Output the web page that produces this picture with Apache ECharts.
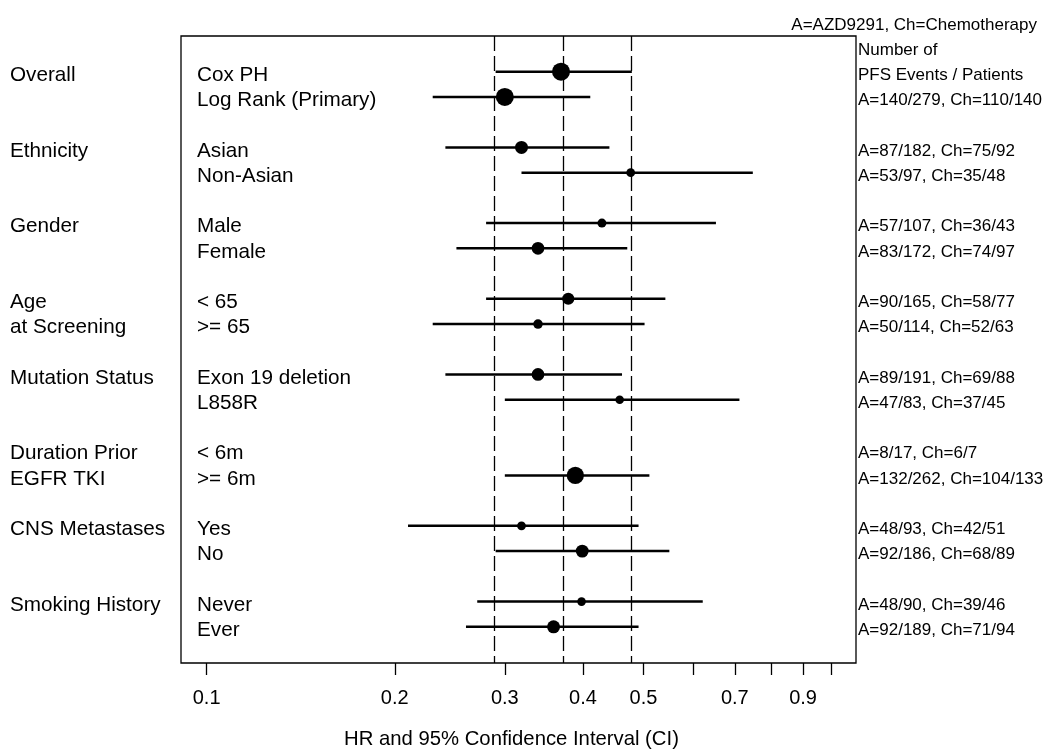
<!DOCTYPE html>
<html>
<head>
<meta charset="utf-8">
<script src="https://cdn.jsdelivr.net/npm/echarts@6/dist/echarts.min.js"></script>
<style>
  html, body { margin: 0; padding: 0; background: #fff; }
  #forest { width: 1043px; height: 749px; }
</style>
</head>
<body>
<div id="forest"></div>
<script>
// group labels (one or two lines each), two subgroups per group
const groups = [['Overall'], ['Ethnicity'], ['Gender'], ['Age', 'at Screening'],
  ['Mutation Status'], ['Duration Prior', 'EGFR TKI'], ['CNS Metastases'], ['Smoking History']];
const subgroups = ['Cox PH', 'Log Rank (Primary)', 'Asian', 'Non-Asian', 'Male', 'Female',
  '< 65', '>= 65', 'Exon 19 deletion', 'L858R', '< 6m', '>= 6m', 'Yes', 'No', 'Never', 'Ever'];

// hazard ratio and 95% CI (null = not estimated)
const hr    = [0.369, 0.300, 0.319, 0.477, 0.429, 0.339, 0.379, 0.339, 0.339, 0.458, null, 0.389, 0.319, 0.399, 0.398, 0.359];
const lower = [0.290, 0.230, 0.241, 0.319, 0.280, 0.251, 0.280, 0.230, 0.241, 0.300, null, 0.300, 0.210, 0.290, 0.271, 0.260];
const upper = [0.479, 0.411, 0.441, 0.748, 0.653, 0.471, 0.542, 0.502, 0.462, 0.712, null, 0.511, 0.491, 0.550, 0.622, 0.491];

// PFS events / patients
const aEvents    = [140, 140, 87, 53, 57, 83, 90, 50, 89, 47, 8, 132, 48, 92, 48, 92];
const aPatients  = [279, 279, 182, 97, 107, 172, 165, 114, 191, 83, 17, 262, 93, 186, 90, 189];
const chEvents   = [110, 110, 75, 35, 36, 74, 58, 52, 69, 37, 6, 104, 42, 68, 39, 71];
const chPatients = [140, 140, 92, 48, 43, 97, 77, 63, 88, 45, 7, 133, 51, 89, 46, 94];

const tickValues  = [0.1, 0.2, 0.3, 0.4, 0.5, 0.6, 0.7, 0.8, 0.9, 1.0];
const labelValues = [0.1, 0.2, 0.3, 0.4, 0.5, 0.7, 0.9];

// row of subgroup i: groups stacked with one blank row between them
const rowOf = i => Math.floor(i / 2) * 3 + (i % 2);
const lg = Math.log10;

const groupText = {}, subText = {}, rightText = {};
groups.forEach((lines, g) => lines.forEach((t, k) => { groupText[g * 3 + k] = t; }));
subgroups.forEach((t, i) => { subText[rowOf(i)] = t; });
rightText[-1] = 'Number of';
rightText[0] = 'PFS Events / Patients';
for (let i = 1; i < subgroups.length; i++) {
  rightText[rowOf(i)] = 'A=' + aEvents[i] + '/' + aPatients[i] + ', Ch=' + chEvents[i] + '/' + chPatients[i];
}

const ciData = [], pointData = [];
hr.forEach((v, i) => {
  if (v == null) return;
  ciData.push([lg(lower[i]), lg(upper[i]), rowOf(i)]);
  pointData.push([lg(v), rowOf(i), aEvents[i] + chEvents[i]]);
});

const FONT = 'Liberation Sans, Arial, sans-serif';
const yMin = -1.415, yMax = 23.435;
const textNudge = 0.14; // text sits a little below the row centre

function labelAxis(map, extra) {
  return Object.assign({
    type: 'value', min: yMin, max: yMax, inverse: true,
    axisLine: { show: false }, axisTick: { show: false }, splitLine: { show: false },
    axisLabel: {
      customValues: Object.keys(map).map(k => Number(k) + textNudge),
      formatter: v => map[Math.round(v)] || '',
      color: '#000', fontSize: 20.7, fontFamily: FONT
    }
  }, extra);
}

const option = {
  animation: false,
  textStyle: { fontFamily: FONT },
  title: {
    text: 'A=AZD9291, Ch=Chemotherapy',
    right: 6, top: 17, padding: 0,
    textStyle: { fontSize: 17, fontWeight: 'normal', color: '#000', fontFamily: FONT }
  },
  grid: {
    left: 181, right: 187, top: 36, bottom: 86,
    show: true, borderColor: '#000', borderWidth: 1.3,
    outerBoundsMode: 'none'
  },
  xAxis: {
    type: 'value', min: -1.041, max: 0.039,
    axisLine: { show: false, onZero: false }, splitLine: { show: false },
    axisTick: {
      show: true, customValues: tickValues.map(lg), length: 12,
      lineStyle: { color: '#000', width: 1.3 }
    },
    axisLabel: {
      customValues: labelValues.map(lg),
      formatter: v => Math.pow(10, v).toFixed(1),
      color: '#000', fontSize: 20, margin: 25, fontFamily: FONT
    },
    name: 'HR and 95% Confidence Interval (CI)',
    nameLocation: 'middle', nameGap: 66,
    nameTextStyle: { color: '#000', fontSize: 20.3, padding: [0, 14, 0, 0], fontFamily: FONT }
  },
  yAxis: [
    labelAxis(groupText, { position: 'left' }),
    labelAxis(subText, { position: 'left' }),
    labelAxis(rightText, { position: 'right' })
  ],
  visualMap: {
    show: false, seriesIndex: 1, dimension: 2, min: 84, max: 250,
    inRange: { symbolSize: [8.5, 18] }
  },
  series: [
    {
      type: 'custom',
      data: ciData,
      encode: { x: [0, 1], y: 2 },
      renderItem: function (params, api) {
        const a = api.coord([api.value(0), api.value(2)]);
        const b = api.coord([api.value(1), api.value(2)]);
        return {
          type: 'line',
          shape: { x1: a[0], y1: a[1], x2: b[0], y2: b[1] },
          style: { stroke: '#000', lineWidth: 2.5 }
        };
      }
    },
    {
      type: 'scatter',
      data: pointData,
      symbol: 'circle',
      itemStyle: { color: '#000', opacity: 1 },
      markLine: {
        silent: true,
        symbol: ['none', 'none'],
        label: { show: false },
        lineStyle: { color: '#000', type: [15, 5], width: 1.3, opacity: 1 },
        data: [{ xAxis: lg(lower[0]) }, { xAxis: lg(hr[0]) }, { xAxis: lg(upper[0]) }]
      }
    }
  ]
};

// group labels start at x=10, subgroup labels sit inside the box
option.yAxis[0].axisLabel.margin = 171;
option.yAxis[0].axisLabel.align = 'left';
option.yAxis[1].axisLabel.inside = true;
option.yAxis[1].axisLabel.margin = 16;
option.yAxis[1].axisLabel.align = 'left';
option.yAxis[2].axisLabel.margin = 2;
option.yAxis[2].axisLabel.align = 'left';
option.yAxis[2].axisLabel.fontSize = 17;

const chart = echarts.init(document.getElementById('forest'));
chart.setOption(option);
window.onresize = function () {
  chart.resize();
};
</script>
</body>
</html>
